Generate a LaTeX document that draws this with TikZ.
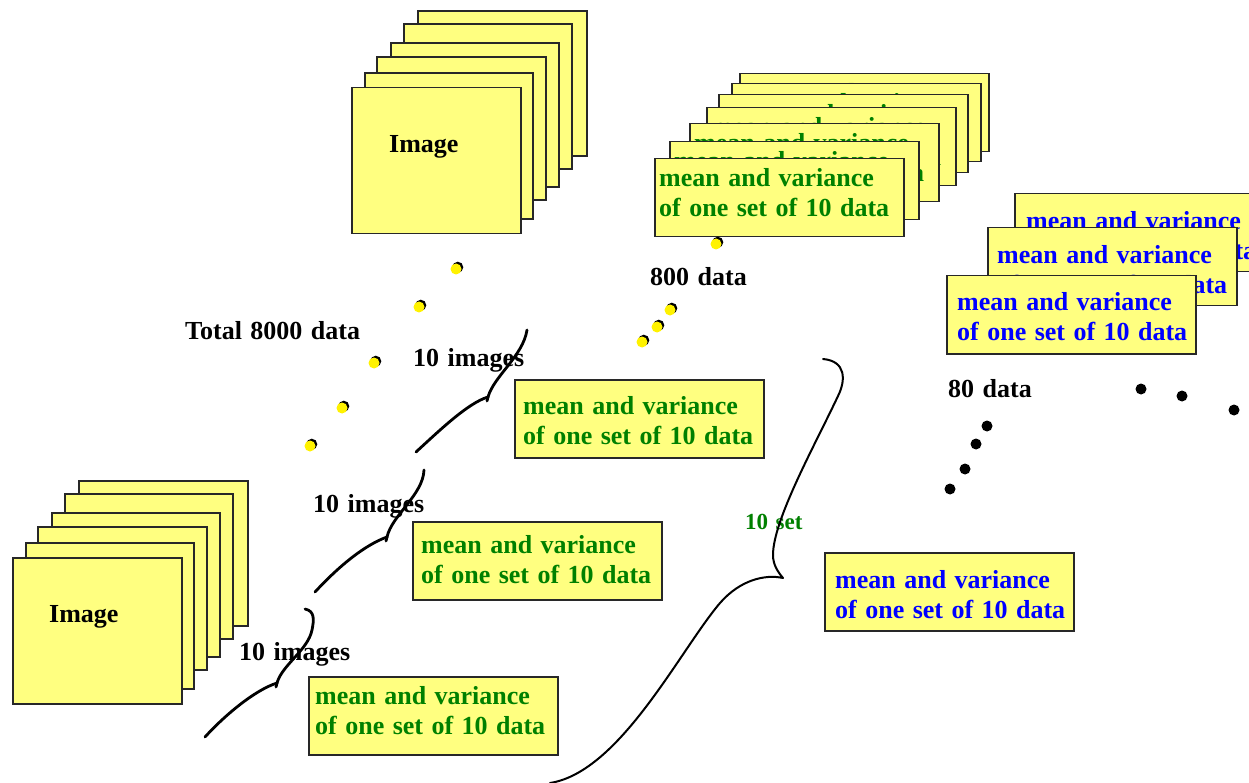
\documentclass[tikz,border=0pt]{standalone}
\usepackage{fontspec}
\setmainfont[WordSpace=1.3]{Liberation Serif}
\usetikzlibrary{calc}
\definecolor{boxyellow}{RGB}{255,255,128}
\definecolor{txtgreen}{RGB}{0,128,0}
\definecolor{txtblue}{RGB}{0,0,255}
\definecolor{edge}{RGB}{40,40,40}
\tikzset{
  dbox/.style={draw=edge, line width=1.5pt, fill=boxyellow, minimum width=249pt, minimum height=78pt, anchor=north west, inner sep=0pt},
  dtext/.style={font=\fontsize{26}{30}\selectfont\bfseries, align=left, inner sep=0pt, anchor=west},
  lbl/.style={font=\fontsize{26}{30}\selectfont\bfseries, inner sep=0pt, anchor=west},
  imgbox/.style={draw=edge, line width=1.5pt, fill=boxyellow},
  brace/.style={line width=2.8pt, line cap=round, line join=round},
  bigbrace/.style={line width=2pt, line cap=round, line join=round},
  ydot/.style={fill=yellow, draw=none},
  kdot/.style={fill=black, draw=none}
}
\newcommand{\databox}[6]{%
  \node[dbox] (#1) at (#2,#3) {};
  \node[dtext, text=#4] (#1t) at ($(#1.north west)+(#5,#6+1.5)$) {mean and variance\\of one set of 10 data};}
\newcommand{\ydotat}[3]{%
  \fill[black] (#2+1.8,#3-1.8) circle (5.5);
  \node[ydot, circle, minimum size=11pt, inner sep=0pt] (#1) at (#2,#3) {};}
\newcommand{\kdotat}[3]{%
  \node[kdot, circle, minimum size=11pt, inner sep=0pt] (#1) at (#2,#3) {};}
\begin{document}
\begin{tikzpicture}[x=1pt,y=-1pt]
\useasboundingbox (0,0) rectangle (1249,783);
\clip (0,0) rectangle (1249,783);
\fill[white] (0,0) rectangle (1249,783);

% ---- top image stack
\draw[imgbox] (418,11) rectangle (587,156);
\draw[imgbox] (404,24) rectangle (572,169);
\draw[imgbox] (391,43) rectangle (559,187);
\draw[imgbox] (377,57) rectangle (546,200);
\draw[imgbox] (365,73) rectangle (533,219);
\node[imgbox, minimum width=169pt, minimum height=146pt, anchor=north west, inner sep=0pt] (imgtop) at (351,87) {};
\node[lbl] (imgtopl) at (389,147) {Image};

% ---- bottom image stack
\draw[imgbox] (79,481) rectangle (248,626);
\draw[imgbox] (65,494) rectangle (233,639);
\draw[imgbox] (52,513) rectangle (220,657);
\draw[imgbox] (38,527) rectangle (207,670);
\draw[imgbox] (26,543) rectangle (194,689);
\node[imgbox, minimum width=169pt, minimum height=146pt, anchor=north west, inner sep=0pt] (imgbot) at (12,557) {};
\node[lbl] (imgbotl) at (49,617) {Image};

% ---- green stack
\databox{s6}{739}{73}{txtgreen}{5}{33}
\databox{s5}{731}{83}{txtgreen}{5}{33}
\databox{s4}{718}{94}{txtgreen}{5}{33}
\databox{s3}{706}{107}{txtgreen}{5}{33}
\databox{s2}{689}{123}{txtgreen}{5}{33}
\databox{s1}{669}{141}{txtgreen}{5}{33}
\databox{s0}{654}{158}{txtgreen}{5}{33}

% ---- green single boxes
\databox{ga}{514}{379}{txtgreen}{9}{40}
\databox{gb}{412}{521}{txtgreen}{9}{37}
\databox{gc}{308}{676}{txtgreen}{7}{33}

% ---- blue stack
\databox{b2}{1014}{193}{txtblue}{12}{41}
\databox{b1}{987}{227}{txtblue}{10}{41}
\databox{b0}{946}{275}{txtblue}{11}{40}
\databox{bb}{824}{552}{txtblue}{11}{41}

% ---- labels
\node[lbl] (total) at (185,331) {Total 8000 data};
\node[lbl] (im1) at (413,360) {10 images};
\node[lbl] (im2) at (313,506) {10 images};
\node[lbl] (im3) at (239,654) {10 images};
\node[lbl] (d800) at (650,277) {800 data};
\node[lbl] (d80) at (948,389) {80 data};
\node[lbl, text=txtgreen, font=\fontsize{23}{26}\selectfont\bfseries] (set10) at (745,522) {10 set};

% ---- braces
\draw[brace] (527,330) .. controls (523,356) and (494,376) .. (488,397)
             .. controls (468,403) and (440,430) .. (416,452);
\draw[brace] (488,397) -- (487,401);
\draw[brace] (424,470) .. controls (423,495) and (392,515) .. (387,537)
             .. controls (365,545) and (340,565) .. (315,592);
\draw[brace] (387,537) -- (386,541);
\draw[brace] (305,609) .. controls (315,611) and (314,620) .. (312,630)
             .. controls (308,650) and (282,665) .. (277,683)
             .. controls (255,690) and (225,715) .. (205,737);
\draw[brace] (277,683) -- (276,687);
\draw[bigbrace] (823,359) .. controls (846,361) and (846,380) .. (838,396)
                .. controls (815,445) and (773,520) .. (773,555)
                .. controls (773,565) and (778,572) .. (783,578)
                .. controls (765,574) and (740,580) .. (720,603)
                .. controls (680,650) and (620,772) .. (550,783);

% ---- yellow dots
\ydotat{y1}{456}{269}
\ydotat{y2}{419}{307}
\ydotat{y3}{374}{363}
\ydotat{y4}{342}{408}
\ydotat{y5}{310}{446}
\ydotat{y6}{716}{244}
\ydotat{y7}{670}{310}
\ydotat{y8}{657}{327}
\ydotat{y9}{642}{342}

% ---- black dots
\kdotat{k1}{1141}{389}
\kdotat{k2}{1182}{396}
\kdotat{k3}{1234}{410}
\kdotat{k4}{987}{426}
\kdotat{k5}{976}{444}
\kdotat{k6}{965}{469}
\kdotat{k7}{950}{489}
\end{tikzpicture}
\end{document}
